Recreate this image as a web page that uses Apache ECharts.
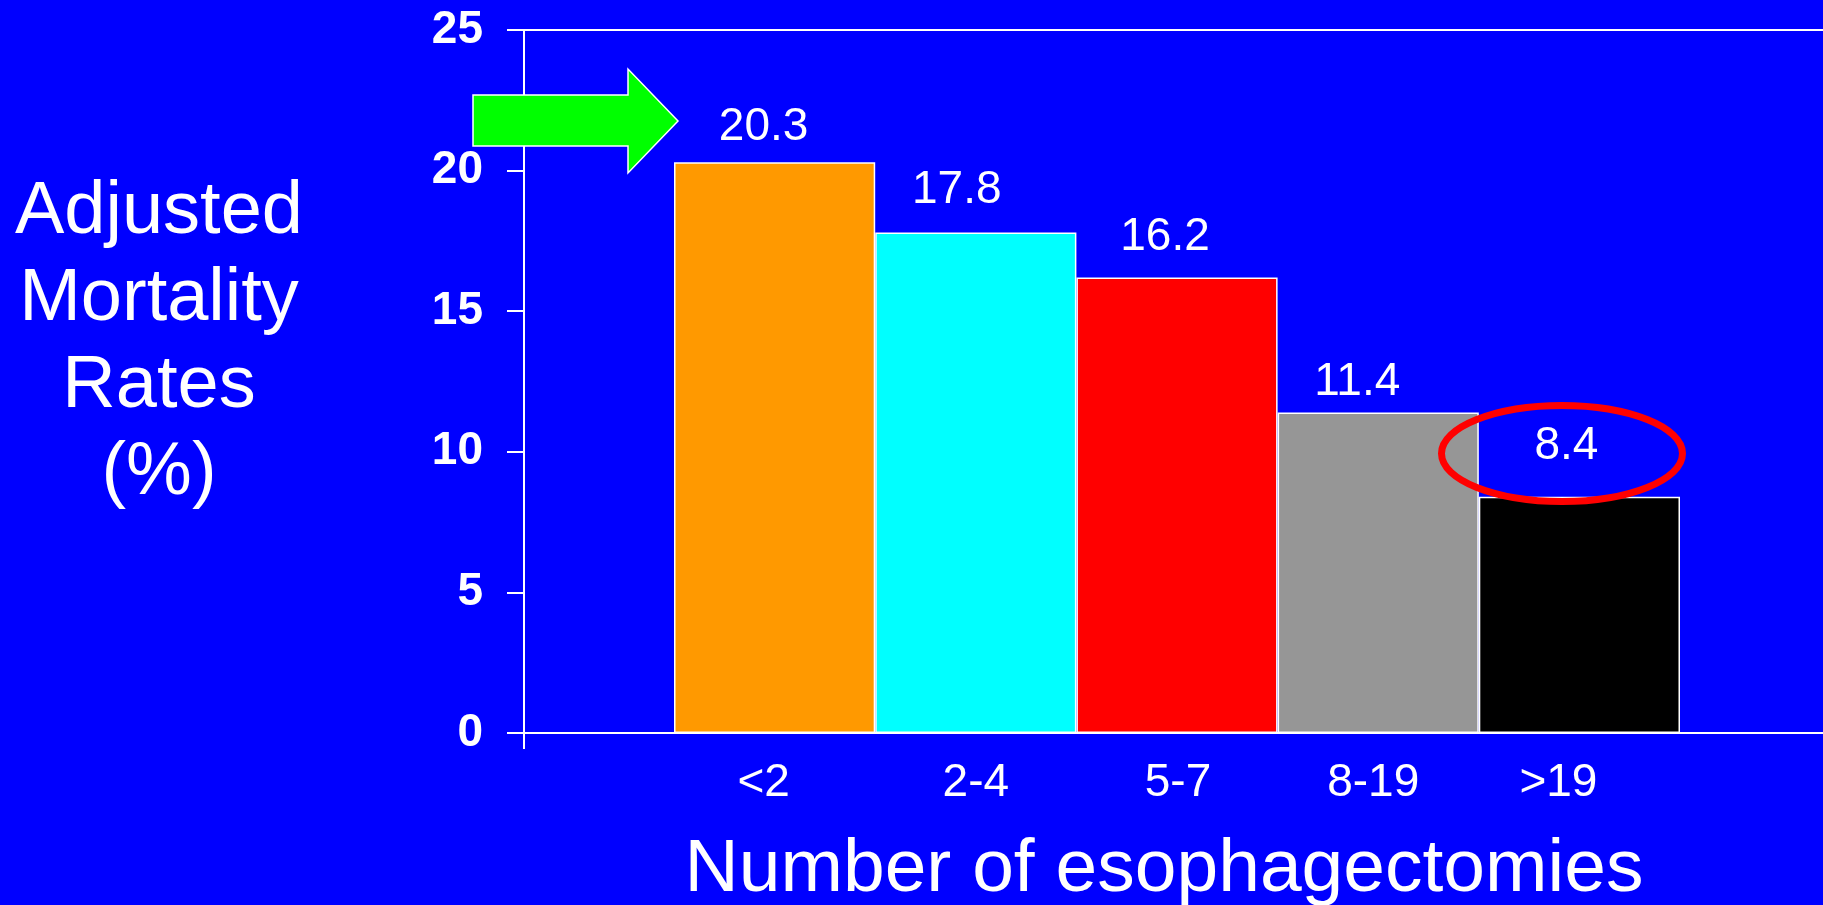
<!DOCTYPE html>
<html>
<head>
<meta charset="utf-8">
<script src="https://cdn.jsdelivr.net/npm/echarts@6/dist/echarts.min.js"></script>
<style>
  html, body { margin: 0; padding: 0; background: #0000FF; }
  #chart { width: 1823px; height: 905px; }
</style>
</head>
<body>
<div id="chart"></div>
<script>
// ---- data ----
const categories = ['<2', '2-4', '5-7', '8-19', '>19'];
const mortality = [20.3, 17.8, 16.2, 11.4, 8.4];
const yMin = 0;
const yMax = 25;
const yStep = 5;
const yTitle = 'Adjusted\nMortality\nRates\n(%)';
const xTitle = 'Number of esophagectomies';

// ---- styling (not data) ----
const barColors = ['#FF9900', '#00FFFF', '#FF0000', '#969696', '#000000'];
const valueLabelDx = [-11, -19, -12, -21, -13];
const valueLabelDist = [12, 19, 17, 7, 27];
const catLabelDx = [-11, 0, 1, -5, -21];

const FONT = '"Liberation Sans", Arial, Helvetica, sans-serif';
const WHITE = '#FFFFFF';

const chart = echarts.init(document.getElementById('chart'), null, { renderer: 'canvas' });

const catData = categories.map((c, i) => {
  const d = catLabelDx[i];
  const pad = d < 0 ? [0, -2 * d, 0, 0] : [0, 0, 0, 2 * d];
  return { value: c, textStyle: { padding: pad } };
});

const barData = mortality.map((v, i) => ({
  value: v,
  itemStyle: { color: barColors[i] },
  label: { distance: valueLabelDist[i], offset: [valueLabelDx[i], 0] }
}));

const option = {
  backgroundColor: '#0000FF',
  animation: false,
  grid: [
    { left: 524, right: 0, top: 30, bottom: 172, containLabel: false, outerBoundsMode: 'none' },
    { left: 674, right: 143, top: 30, bottom: 172, containLabel: false, outerBoundsMode: 'none' }
  ],
  xAxis: [
    {
      gridIndex: 0, type: 'value', min: 0, max: 1, position: 'bottom',
      axisLine: { show: true, lineStyle: { color: WHITE, width: 2 } },
      axisTick: { show: true, length: 16, customValues: [0], lineStyle: { color: WHITE, width: 2 } },
      axisLabel: { show: false },
      splitLine: { show: false },
      name: xTitle, nameLocation: 'middle', nameGap: 100,
      nameTextStyle: { color: WHITE, fontSize: 75, fontFamily: FONT, padding: [0, 19, 0, 0] }
    },
    {
      gridIndex: 0, type: 'value', min: 0, max: 1, position: 'top',
      axisLine: { show: true, lineStyle: { color: WHITE, width: 2 } },
      axisTick: { show: false }, axisLabel: { show: false }, splitLine: { show: false }
    },
    {
      gridIndex: 1, type: 'category', data: catData,
      axisLine: { show: false }, axisTick: { show: false }, splitLine: { show: false },
      axisLabel: { color: WHITE, fontSize: 46, fontFamily: FONT, margin: 27 }
    }
  ],
  yAxis: [
    {
      gridIndex: 0, type: 'value', min: yMin, max: yMax, interval: yStep,
      axisLine: { show: true, lineStyle: { color: WHITE, width: 2 } },
      axisTick: { show: true, inside: false, length: 17, lineStyle: { color: WHITE, width: 2 } },
      axisLabel: { color: WHITE, fontSize: 46, fontWeight: 'bold', fontFamily: FONT, margin: 41 },
      splitLine: { show: false }
    },
    {
      gridIndex: 1, type: 'value', min: yMin, max: yMax, interval: yStep, show: false
    }
  ],
  series: [
    {
      type: 'bar', xAxisIndex: 2, yAxisIndex: 1,
      data: barData,
      barWidth: '100%', barCategoryGap: 0,
      itemStyle: { borderColor: WHITE, borderWidth: 1.5 },
      label: { show: true, position: 'top', color: WHITE, fontSize: 46, fontFamily: FONT }
    }
  ],
  graphic: [
    {
      type: 'text', z: 100, x: 159, y: 169,
      style: { text: yTitle, fill: WHITE, fontSize: 74, fontFamily: FONT,
        align: 'center', verticalAlign: 'top', lineHeight: 87 }
    },
    {
      type: 'polygon', z: 100,
      shape: { points: [[473, 95], [628, 95], [628, 69], [678, 121], [628, 173], [628, 146], [473, 146]] },
      style: { fill: '#00FF00', stroke: WHITE, lineWidth: 1.5 }
    },
    {
      type: 'ellipse', z: 100,
      shape: { cx: 1562, cy: 453.5, rx: 120.5, ry: 48 },
      style: { fill: null, stroke: '#FF0000', lineWidth: 7 }
    }
  ]
};

chart.setOption(option);
</script>
</body>
</html>
